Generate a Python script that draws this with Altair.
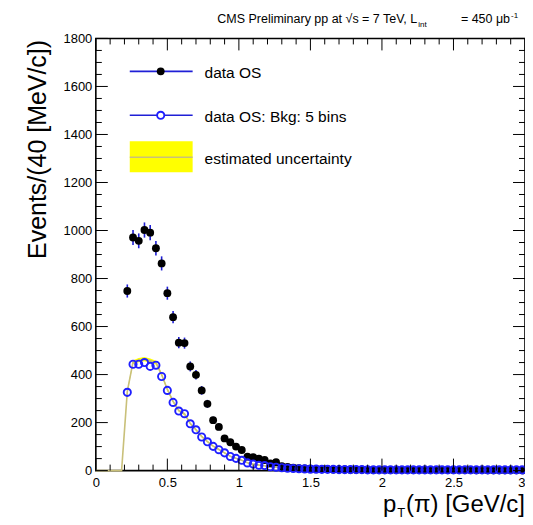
import math
import altair as alt
import pandas as pd

W, H = 430, 433
FONT = "Liberation Sans"

# ---------------- data ----------------
bin_centers = [round(0.22 + 0.04 * i, 2) for i in range(70)]

data_os = [748, 971, 957, 1002, 991, 926, 863, 739, 639, 533,
           531, 434, 399, 334, 278, 210, 182, 134, 118, 100,
           86, 58, 56, 50, 44, 30, 35, 18, 15, 12,
           10, 9, 8, 7, 6, 6, 5, 5, 5, 4,
           4, 4, 4, 3, 3, 3, 3, 3, 3, 2,
           2, 3, 2, 2, 2, 2, 2, 2, 2, 2,
           2, 1, 2, 1, 1, 1, 1, 1, 1, 1]

bkg_5bins = [326, 443, 443, 450, 434, 439, 392, 334, 284, 248,
             237, 195, 170, 140, 120, 101, 87, 74, 59, 51,
             43, 32, 27, 22, 21, 16, 14, 12, 10, 9,
             8, 7, 6, 6, 5, 5, 5, 4, 4, 4,
             4, 4, 3, 3, 3, 3, 3, 3, 3, 3,
             3, 3, 3, 3, 3, 3, 3, 3, 3, 3,
             3, 3, 3, 3, 3, 3, 3, 3, 3, 3]

band_x = [0.0, 0.18, 0.22, 0.26, 0.30, 0.34, 0.38, 0.42, 0.46, 0.50,
          0.54, 0.58, 0.62, 0.66, 0.70, 0.74, 0.78, 0.82, 0.86, 0.90,
          0.94, 0.98, 1.02, 1.06, 1.10, 1.14, 1.18, 1.22, 1.26, 1.30, 3.0]
band_mid = [0, 0, 330, 452, 460, 464, 458, 450, 400, 338,
            288, 250, 236, 196, 170, 142, 121, 102, 88, 74,
            60, 51, 43, 33, 27, 23, 20, 16, 14, 12, 3]
band_half = [0, 0, 6, 8, 9, 9, 9, 8, 7, 6,
             5, 5, 5, 4, 4, 4, 3, 3, 3, 3,
             2, 2, 2, 2, 2, 2, 2, 2, 2, 2, 1]

x_major = [0, 0.5, 1, 1.5, 2, 2.5, 3]
x_minor = [0.1, 0.2, 0.3, 0.4, 0.6, 0.7, 0.8, 0.9, 1.1, 1.2, 1.3, 1.4,
           1.6, 1.7, 1.8, 1.9, 2.1, 2.2, 2.3, 2.4, 2.6, 2.7, 2.8, 2.9]
y_major = [0, 200, 400, 600, 800, 1000, 1200, 1400, 1600, 1800]
y_minor = [50, 100, 150, 250, 300, 350, 450, 500, 550, 650, 700, 750,
           850, 900, 950, 1050, 1100, 1150, 1250, 1300, 1350, 1450, 1500,
           1550, 1650, 1700, 1750]

legend_labels = ["data OS", "data OS: Bkg: 5 bins", "estimated uncertainty"]

# ---------------- tables ----------------
pts = pd.DataFrame({
    "x": bin_centers,
    "os": data_os,
    "bkg": bkg_5bins,
})
pts["lo"] = [v - math.sqrt(v) for v in data_os]
pts["hi"] = [v + math.sqrt(v) for v in data_os]

band = pd.DataFrame({
    "x": band_x,
    "mid": band_mid,
    "lo": [m - h for m, h in zip(band_mid, band_half)],
    "hi": [m + h for m, h in zip(band_mid, band_half)],
})

xs = alt.Scale(domain=[0, 3], nice=False, zero=False)
ys = alt.Scale(domain=[0, 1800], nice=False, zero=False)

xaxis = alt.Axis(values=x_major, format="~g", tickSize=0, domain=False, grid=False,
                 labelFont=FONT, labelFontSize=13, labelColor="black",
                 labelPadding=6, labelFlush=False, title="",
                 labelAlign=alt.ExprRef(expr="datum.value >= 3 ? 'right' : 'center'"))
yaxis = alt.Axis(values=y_major, format="d", tickSize=0, domain=False, grid=False,
                 labelFont=FONT, labelFontSize=13, labelColor="black",
                 labelPadding=4, labelFlush=False,
                 title="Events/(40 [MeV/c])", titleFont=FONT, titleFontSize=25,
                 titleFontWeight="normal", titleColor="black",
                 titleAngle=-90, titleX=-50, titleY=1, titleAlign="right",
                 titleBaseline="alphabetic")


def X(field):
    return alt.X(field, type="quantitative", scale=xs, axis=xaxis)


def Y(field):
    return alt.Y(field, type="quantitative", scale=ys, axis=yaxis)


base = alt.Chart(pts)

band_area = alt.Chart(band).mark_area(color="#ffff00", opacity=1).encode(
    x=X("x"), y=Y("lo"), y2="hi")
band_line = alt.Chart(band).mark_line(color="#c9c07a", strokeWidth=1.6).encode(
    x=X("x"), y=Y("mid"))

err = base.mark_rule(color="#1f1fd6", strokeWidth=1.6).encode(
    x=X("x"), y=Y("lo"), y2="hi")
os_pts = base.mark_circle(color="black", size=62, opacity=1).encode(
    x=X("x"), y=Y("os"))
bkg_pts = base.mark_point(shape="circle", filled=False, color="#1f1fff",
                          strokeWidth=1.9, size=52, opacity=1).encode(
    x=X("x"), y=Y("bkg"))

# ---------- inward ticks on all four sides ----------
xmaj = pd.DataFrame({"t": x_major})
xmin = pd.DataFrame({"t": x_minor})
ymaj = pd.DataFrame({"t": y_major})
ymin = pd.DataFrame({"t": y_minor})
tick_layers = []
for df, ln in ((xmaj, 12), (xmin, 6)):
    tick_layers.append(alt.Chart(df).mark_rule(color="black", strokeWidth=1).encode(
        x=X("t"), y=alt.value(H), y2=alt.value(H - ln)))
    tick_layers.append(alt.Chart(df).mark_rule(color="black", strokeWidth=1).encode(
        x=X("t"), y=alt.value(0), y2=alt.value(ln)))
for df, ln in ((ymaj, 12), (ymin, 6)):
    tick_layers.append(alt.Chart(df).mark_rule(color="black", strokeWidth=1).encode(
        y=Y("t"), x=alt.value(0), x2=alt.value(ln)))
    tick_layers.append(alt.Chart(df).mark_rule(color="black", strokeWidth=1).encode(
        y=Y("t"), x=alt.value(W), x2=alt.value(W - ln)))

# ---------- legend ----------
one = pd.DataFrame({"k": [0]})
leg = []
leg.append(alt.Chart(one).mark_rule(color="#1f1fd6", strokeWidth=1.6).encode(
    x=alt.value(34), x2=alt.value(97), y=alt.value(33)))
leg.append(alt.Chart(one).mark_circle(color="black", size=62, opacity=1).encode(
    x=alt.value(65), y=alt.value(33)))
leg.append(alt.Chart(one).mark_rule(color="#1f1fd6", strokeWidth=1.6).encode(
    x=alt.value(34), x2=alt.value(97), y=alt.value(77)))
leg.append(alt.Chart(one).mark_point(shape="circle", filled=True, fill="white",
                                     stroke="#1f1fff", strokeWidth=1.9, size=52,
                                     opacity=1).encode(
    x=alt.value(65), y=alt.value(77)))
leg.append(alt.Chart(one).mark_rect(color="#ffff00").encode(
    x=alt.value(34), x2=alt.value(97), y=alt.value(103), y2=alt.value(134)))
leg.append(alt.Chart(one).mark_rule(color="#c9c07a", strokeWidth=1.6).encode(
    x=alt.value(34), x2=alt.value(97), y=alt.value(119)))
for lab, yy in zip(legend_labels, (35, 79, 121)):
    leg.append(alt.Chart(one).mark_text(text=lab, font=FONT, fontSize=15.5,
                                        align="left", baseline="middle",
                                        color="black").encode(
        x=alt.value(109), y=alt.value(yy)))

# ---------- header and x-title ----------
txt = []
def t(s, x, y, size, align="left"):
    return alt.Chart(one).mark_text(text=s, font=FONT, fontSize=size, align=align,
                                    baseline="alphabetic", color="black").encode(
        x=alt.value(x), y=alt.value(y))

txt.append(t("CMS Preliminary pp at \u221as = 7 TeV, L", 322, -15, 12.5, "right"))
txt.append(t("int", 323, -11, 8))
txt.append(t("=  450  \u03bcb", 415, -15, 12.5, "right"))
txt.append(t("-1", 416, -20, 8))
txt.append(t("(\u03c0) [GeV/c]", W, 474, 24, "right"))
txt.append(t("T", 302, 479, 13))
txt.append(t("p", 301, 474, 24, "right"))

chart = alt.layer(
    band_area, band_line, err, os_pts, bkg_pts, *tick_layers, *leg, *txt
).properties(
    width=W, height=H,
    autosize=alt.AutoSizeParams(type="none"),
    padding={"left": 88, "top": 30, "right": 0, "bottom": 50},
).configure_view(
    stroke="black", strokeWidth=1.6
)

chart.save("out.html", embed_options={"renderer": "svg", "actions": False})
